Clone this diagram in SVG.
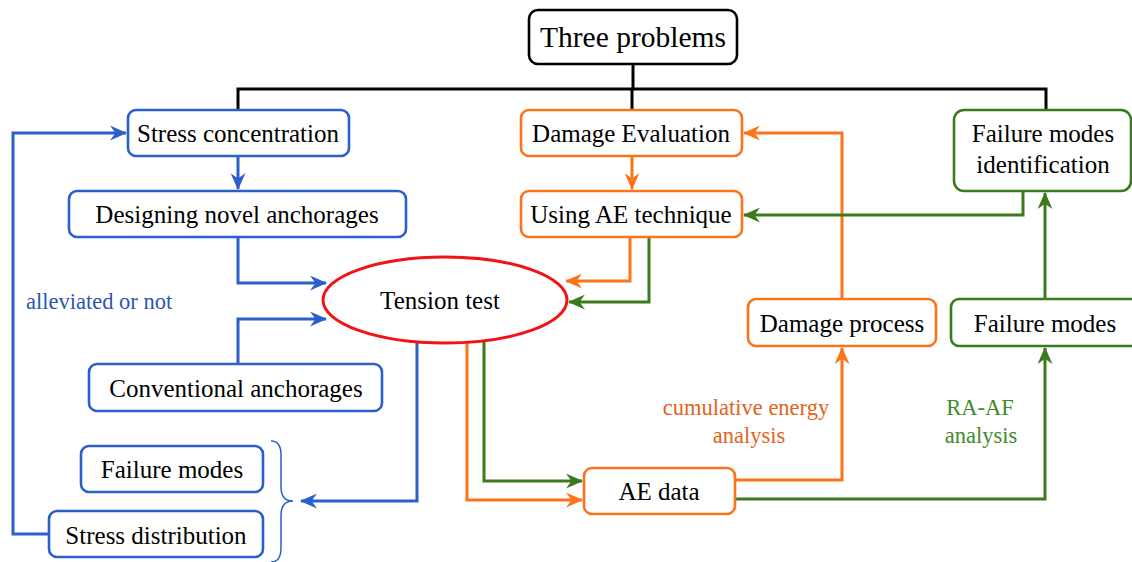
<svg xmlns="http://www.w3.org/2000/svg" width="1132" height="562" viewBox="0 0 1132 562">
<style>
text{font-family:"Liberation Serif","Times New Roman",serif;fill:#000;text-anchor:middle}
.t{font-size:25px}
.big{font-size:29.5px}
.lbl{font-size:22.5px}
.box{fill:#fff;stroke-width:2.6}
.bl{stroke:#2a5fcc}
.or{stroke:#fc7419}
.gr{stroke:#3c7a1e}
.bk{stroke:#000}
.c{fill:none;stroke-width:3}
</style>
<defs>
<marker id="ab" viewBox="0 0 16 14" refX="15" refY="7" markerWidth="17" markerHeight="15" markerUnits="userSpaceOnUse" orient="auto"><path d="M0,0 L16,7 L0,14 L5,7 z" fill="#2a5fcc"/></marker>
<marker id="ao" viewBox="0 0 16 14" refX="15" refY="7" markerWidth="17" markerHeight="15" markerUnits="userSpaceOnUse" orient="auto"><path d="M0,0 L16,7 L0,14 L5,7 z" fill="#fc7419"/></marker>
<marker id="ag" viewBox="0 0 16 14" refX="15" refY="7" markerWidth="17" markerHeight="15" markerUnits="userSpaceOnUse" orient="auto"><path d="M0,0 L16,7 L0,14 L5,7 z" fill="#3c7a1e"/></marker>
</defs>
<rect width="1132" height="562" fill="#fff"/>
<g id="connectors">
<path class="c bk" d="M633,64 V89 M238,110 V89 H1046 V110 M632,89 V110"/>
<path class="c bl" d="M49,534 H13 V133 H126" marker-end="url(#ab)"/>
<path class="c bl" d="M238,156 V189" marker-end="url(#ab)"/>
<path class="c bl" d="M238,237 V283 H326" marker-end="url(#ab)"/>
<path class="c bl" d="M238,364 V319 H326" marker-end="url(#ab)"/>
<path class="c bl" d="M417,341 V501 H301" marker-end="url(#ab)"/>
<path d="M271,441 Q281,441 281,455 V487 Q281,501 293,501 Q281,501 281,515 V548 Q281,562 271,562" fill="none" stroke="#2a5fcc" stroke-width="1.5"/>
<path class="c or" d="M632,156 V189" marker-end="url(#ao)"/>
<path class="c or" d="M630,237 V281 H566" marker-end="url(#ao)"/>
<path class="c or" d="M467,341 V500 H582" marker-end="url(#ao)"/>
<path class="c or" d="M735,480 H842 V348" marker-end="url(#ao)"/>
<path class="c or" d="M842,299 V133 H744" marker-end="url(#ao)"/>
<path class="c gr" d="M649,237 V302 H569" marker-end="url(#ag)"/>
<path class="c gr" d="M484,341 V481 H582" marker-end="url(#ag)"/>
<path class="c gr" d="M735,499 H1045 V348" marker-end="url(#ag)"/>
<path class="c gr" d="M1045,299 V193" marker-end="url(#ag)"/>
<path class="c gr" d="M1023,191 V215 H744" marker-end="url(#ag)"/>
</g>
<g id="three-problems"><rect class="box bk" x="529" y="10" width="208" height="54" rx="9"/><text class="big" x="633" y="47">Three problems</text></g>
<g id="stress-concentration"><rect class="box bl" x="128" y="110" width="221" height="46" rx="8"/><text class="t" x="238" y="142">Stress concentration</text></g>
<g id="designing"><rect class="box bl" x="69" y="191" width="337" height="46" rx="8"/><text class="t" x="237" y="223">Designing novel anchorages</text></g>
<g id="conventional"><rect class="box bl" x="89" y="364" width="293" height="47" rx="8"/><text class="t" x="236" y="397">Conventional anchorages</text></g>
<g id="failure-modes-left"><rect class="box bl" x="81" y="446" width="182" height="46" rx="8"/><text class="t" x="172" y="478">Failure modes</text></g>
<g id="stress-distribution"><rect class="box bl" x="49" y="511" width="214" height="46" rx="8"/><text class="t" x="156" y="544">Stress distribution</text></g>
<g id="tension-test"><ellipse cx="445" cy="300" rx="122" ry="43" fill="#fff" stroke="#f01414" stroke-width="3"/><text class="t" x="440" y="309">Tension test</text></g>
<g id="damage-evaluation"><rect class="box or" x="521" y="110" width="221" height="46" rx="8"/><text class="t" x="631" y="142">Damage Evaluation</text></g>
<g id="using-ae"><rect class="box or" x="521" y="191" width="221" height="46" rx="8"/><text class="t" x="631" y="223">Using AE technique</text></g>
<g id="ae-data"><rect class="box or" x="584" y="468" width="151" height="46" rx="8"/><text class="t" x="659" y="500">AE data</text></g>
<g id="damage-process"><rect class="box or" x="748" y="299" width="188" height="47" rx="8"/><text class="t" x="842" y="332">Damage process</text></g>
<g id="failure-modes-right"><rect class="box gr" x="951" y="299" width="192" height="47" rx="8"/><text class="t" x="1045" y="332">Failure modes</text></g>
<g id="failure-modes-identification"><rect class="box gr" x="954" y="110" width="177" height="81" rx="10"/><text class="t" x="1043" y="142">Failure modes</text><text class="t" x="1043" y="173">identification</text></g>
<g id="labels">
<text class="lbl" x="26" y="309" style="text-anchor:start;fill:#2b55b8">alleviated or not</text>
<text class="lbl" x="746" y="415" style="fill:#e4631c">cumulative energy</text>
<text class="lbl" x="749" y="443" style="fill:#e4631c">analysis</text>
<text class="lbl" x="980" y="415" style="fill:#3f8a2a">RA-AF</text>
<text class="lbl" x="981" y="443" style="fill:#3f8a2a">analysis</text>
</g>
</svg>
